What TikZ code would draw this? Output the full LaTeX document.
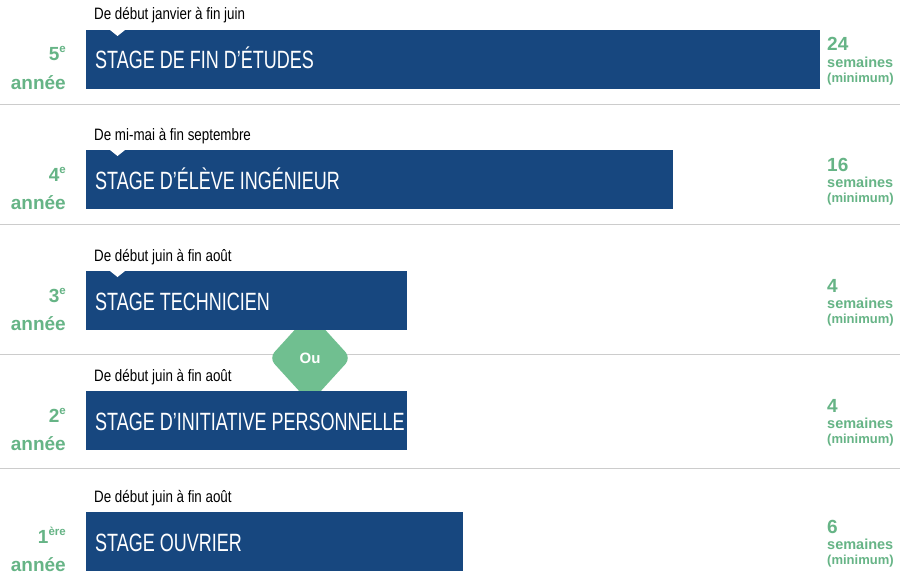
\documentclass[tikz,border=0pt]{standalone}
\usepackage{fontspec}
\setmainfont{Liberation Sans}
\newfontfamily\condfont[FakeStretch=0.72]{Liberation Sans}
\newfontfamily\datefont[FakeStretch=0.81]{Liberation Sans}
\usetikzlibrary{shapes.geometric,positioning}
\tikzset{
  stagebar/.style={fill=stageblue},
  titletxt/.style={anchor=base west, inner sep=0, text=white, font=\condfont\fontsize{25}{25}\selectfont},
  datetxt/.style={anchor=base west, inner sep=0, text=black, font=\datefont\fontsize{16.5}{16.5}\selectfont},
  yeartxt/.style={anchor=base east, inner sep=0, text=stagegreen, font=\fontsize{19}{19}\selectfont\bfseries},
  weekstxt/.style={anchor=base west, inner sep=0, text=stagegreen, font=\fontsize{19}{19}\selectfont\bfseries},
  semtxt/.style={anchor=base west, inner sep=0, text=stagegreen, font=\fontsize{14.5}{14.5}\selectfont\bfseries},
  mintxt/.style={anchor=base west, inner sep=0, text=stagegreen, font=\fontsize{13}{13}\selectfont\bfseries},
  oubox/.style={diamond, aspect=0.9, minimum width=82pt, minimum height=90pt, inner sep=0, fill=ougreen, rounded corners=8pt, text=white, font=\fontsize{15}{15}\selectfont\bfseries}
}
\newcommand{\yearsup}[1]{\raisebox{8pt}{\fontsize{11.5}{11.5}\selectfont #1}}

\begin{document}
\begin{tikzpicture}[x=1pt,y=-1pt]
        % Define colors
        \definecolor{stageblue}{HTML}{17477F}
        \definecolor{stagegreen}{HTML}{66B486}
        \definecolor{ougreen}{HTML}{70BF90}
        \definecolor{sepgrey}{HTML}{CCCCCC}

        % Background and size
        \fill[white] (0,0) rectangle (900,578);
        \useasboundingbox (0,0) rectangle (900,578);

        % Draw the separators
        \foreach \sy in {104,224,354,468}
            \draw[sepgrey, line width=1pt] (0,\sy) -- (900,\sy);

        % The "Ou" diamond, behind the bars
        \node[oubox] (ou) at (310,358) {Ou};

        % Draw the rows (top, bar end, dates, stage, year, sup, weeks, notch)
        \foreach \ytop/\len/\dates/\stage/\yr/\yrsup/\wk/\notch [count=\r] in {
            30/820/De début janvier à fin juin/STAGE DE FIN D’ÉTUDES/5/e/24/1,
            150/673/De mi-mai à fin septembre/STAGE D’ÉLÈVE INGÉNIEUR/4/e/16/1,
            271/407/De début juin à fin août/STAGE TECHNICIEN/3/e/4/1,
            391/407/De début juin à fin août/STAGE D’INITIATIVE PERSONNELLE/2/e/4/0,
            512/463/De début juin à fin août/STAGE OUVRIER/1/ère/6/0} {
                \fill[stagebar] (86,\ytop) rectangle (\len,\ytop+59);
                \ifnum\notch=1
                    \fill[white] (110,\ytop) -- (125,\ytop) -- (117.5,\ytop+6) -- cycle;
                \fi
                \node[datetxt] (date\r) at (94,\ytop-10) {\dates};
                \node[titletxt] (title\r) at (95,\ytop+39) {\stage};
                \node[yeartxt] (year\r) at (66,\ytop+31) {\yr\yearsup{\yrsup}};
                \node[yeartxt] (annee\r) at (66,\ytop+59) {année};
                \node[weekstxt] (weeks\r) at (827,\ytop+21) {\wk};
                \node[semtxt] (sem\r) at (827,\ytop+37) {semaines};
                \node[mintxt] (min\r) at (827,\ytop+52) {(minimum)};
        }
\end{tikzpicture}
\end{document}
